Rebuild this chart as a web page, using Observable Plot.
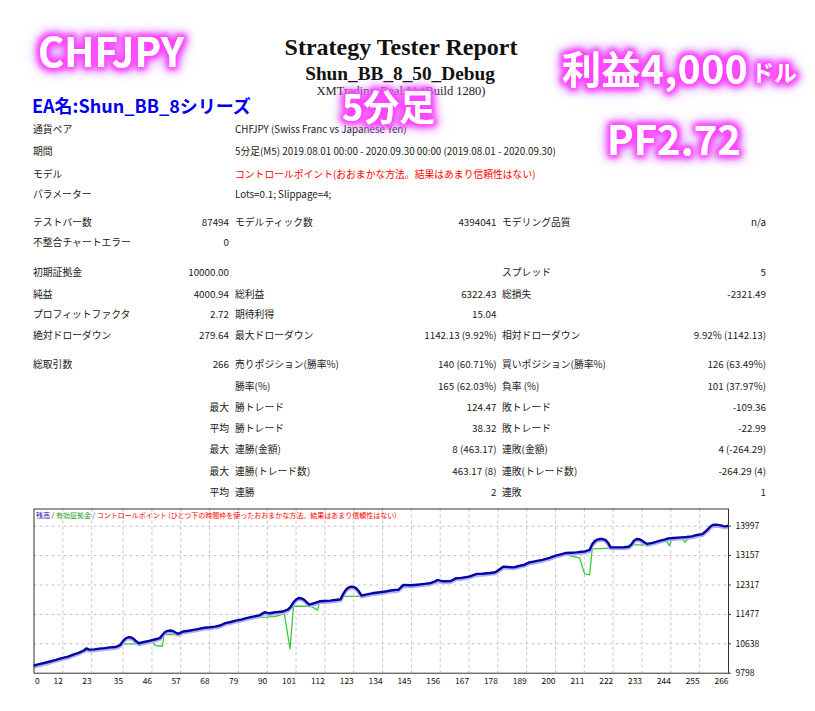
<!DOCTYPE html>
<html><head><meta charset="utf-8">
<script src="https://cdn.jsdelivr.net/npm/d3@7"></script>
<script src="https://cdn.jsdelivr.net/npm/@observablehq/plot@0.6"></script>
<style>
body{margin:0;background:#fff;}
#page{position:relative;width:815px;height:711px;overflow:hidden;background:#fff;}
#chart{position:absolute;left:0;top:500px;}
#over{position:absolute;left:0;top:0;}
</style></head>
<body><div id="page"><div id="chart"></div></div>
<script>
// ---- chart data ----
const xTicks = [0,12,23,35,46,57,68,79,90,101,112,123,134,145,156,167,178,189,200,211,222,233,244,255,266];
const yTicks = [9798,10638,11477,12317,13157,13997];

const balanceTrade = [0,3,6,9,12,14,16,18,20,21,22,24,26,28,30,32,33,34,35,36,37,38,39,40,41,43,45,47,49,50,51,52,53,54,55,56,58,60,63,66,68,70,72,74,76,78,80,82,85,87,89,90,91,93,94,96,98,99,100,101,102,103,104,105,106,108,110,112,114,116,118,119,120,121,122,123,124,125,126,128,130,133,135,137,139,140,142,145,148,150,152,154,155,156,157,160,162,164,167,170,172,175,177,179,180,182,184,186,188,190,192,195,198,200,202,204,206,208,210,211,213,214,215,216,217,218,219,220,221,223,226,228,229,230,231,232,233,234,235,237,240,242,243,245,248,250,252,254,256,257,258,259,260,261,262,263,264,265,266];
const balanceValue = [10000,10055,10110,10170,10237,10270,10330,10380,10446,10505,10470,10480,10500,10515,10535,10545,10570,10610,10720,10795,10825,10820,10780,10710,10654,10690,10720,10760,10800,10890,10975,11008,11016,11005,10960,10922,10990,11010,11050,11095,11110,11130,11160,11230,11260,11300,11330,11370,11420,11450,11540,11520,11510,11540,11545,11560,11620,11700,11824,11900,11945,11940,11900,11830,11758,11800,11852,11860,11870,11890,11910,12063,12180,12245,12271,12262,12220,12130,12015,12050,12080,12109,12130,12160,12177,12180,12320,12310,12330,12350,12366,12420,12462,12440,12423,12430,12508,12520,12557,12634,12640,12660,12680,12780,12842,12830,12822,12860,12891,12965,12990,13033,13100,13156,13190,13233,13240,13250,13265,13270,13318,13480,13570,13615,13632,13630,13605,13530,13393,13393,13395,13410,13480,13590,13632,13625,13585,13530,13490,13520,13584,13620,13650,13660,13678,13690,13707,13747,13770,13830,13900,13980,14030,14040,14035,14020,14000,13992,14012];

const equitySegment = ["A","A","A","B","B","B","B","B","B","C","C","C","C","C","C","C","C","D","D","D","D","D","D","D","D","D","D","D","D","D","E","E","E","E","E","F","F","F","F","F","F","F","F","F","G","G","G","G","H","H","H","H","H","H","I","I","I"];
const equityTrade = [20,21,22,31,32.5,33.5,34,41,41.5,45,46,47.3,50,50.6,56,57,58,78,80,85,90,93,95,96.5,98.7,100,106,107,109.2,110,116,118,118.8,126.4,127,202,204,206,209.2,211.1,213,214,221.5,222,227,228.6,235,236,242,243.4,244.5,248,249.5,251,257.5,258.5,266];
const equityValue = [10446,10450,10465,10540,10505,10520,10637,10637,10654,10720,10700,10586,10568,10902,10905,10900,10990,11300,11330,11385,11400,11420,11460,11500,10494,11710,11710,11700,11600,11852,11880,11890,11995,11995,12030,13190,13200,13140,13090,12634,12605,13347,13370,13393,13395,13461,13461,13500,13630,13441,13650,13655,13535,13700,13850,13964,13964];

const legendParts = [["残高","#1010b0"],[" / ","#444"],["有効証拠金","#20a020"],[" / ","#444"],["コントロールポイント (ひとつ下の時間枠を使ったおおまかな方法。結果はあまり信頼性はない)","#ff0000"]];

// ---- report table text ----
const rowLabels = ["通貨ペア","期間","モデル","パラメーター","テストバー数","不整合チャートエラー","初期証拠金","純益","プロフィットファクタ","絶対ドローダウン","総取引数","","","","","",""];
const rowValues = ["","","","","87494","0","10000.00","4000.94","2.72","279.64","266","","最大","平均","最大","最大","平均"];
const midLabels = ["CHFJPY (Swiss Franc vs Japanese Yen)","5分足(M5) 2019.08.01 00:00 - 2020.09.30 00:00 (2019.08.01 - 2020.09.30)","コントロールポイント(おおまかな方法。結果はあまり信頼性はない)","Lots=0.1; Slippage=4;","モデルティック数","","","総利益","期待利得","最大ドローダウン","売りポジション(勝率%)","勝率(%)","勝トレード","勝トレード","連勝(金額)","連勝(トレード数)","連勝"];
const midValues = ["","","","","4394041","","","6322.43","15.04","1142.13 (9.92%)","140 (60.71%)","165 (62.03%)","124.47","38.32","8 (463.17)","463.17 (8)","2"];
const rightLabels = ["","","","","モデリング品質","","スプレッド","総損失","","相対ドローダウン","買いポジション(勝率%)","負率 (%)","敗トレード","敗トレード","連敗(金額)","連敗(トレード数)","連敗"];
const rightValues = ["","","","","n/a","","5","-2321.49","","9.92% (1142.13)","126 (63.49%)","101 (37.97%)","-109.36","-22.99","4 (-264.29)","-264.29 (4)","1"];

const titleText = "Strategy Tester Report";
const subtitleText = "Shun_BB_8_50_Debug";
const serverText = "XMTrading-Real 11 (Build 1280)";
const eaText = "EA名:Shun_BB_8シリーズ";

// ---- chart ----
const balance = balanceTrade.map((t, i) => ({t, v: balanceValue[i]}));
const equity = equityTrade.map((t, i) => ({t, v: equityValue[i], s: equitySegment[i]}));
const tickFont = "'Noto Sans CJK JP', 'Liberation Sans', sans-serif";

const chart = Plot.plot({
  width: 815, height: 211,
  marginLeft: 33.5, marginRight: 87, marginTop: 8.5, marginBottom: 38.3,
  x: {domain: [1, 266], axis: null},
  y: {domain: [9798, 14488], axis: null},
  style: {background: "transparent", fontFamily: tickFont, overflow: "visible"},
  marks: [
    Plot.ruleX(xTicks.filter(d => d > 0 && d < 266), {x: d => d, stroke: "#c4c4c4", strokeDasharray: "3,3"}),
    Plot.ruleY(yTicks.filter(d => d > 9798), {y: d => d, stroke: "#c4c4c4", strokeDasharray: "3,3"}),
    Plot.line(equity, {x: "t", y: "v", z: "s", stroke: "#3cc83c", strokeWidth: 1.3, clip: true}),
    Plot.line(balance, {x: "t", y: "v", stroke: "#b0b0ee", strokeWidth: 3.6, dy: 1.2, clip: true}),
    Plot.line(balance, {x: "t", y: "v", stroke: "#0606a8", strokeWidth: 2.4, clip: true}),
    Plot.frame({stroke: "#333"}),
    Plot.ruleY(yTicks, {y: d => d, x1: 266, x2: 267.1, stroke: "#333"}),
    Plot.text(yTicks, {x: 266, y: d => d, text: d => String(d), textAnchor: "start", dx: 7, fontSize: 8.6, fill: "#111"}),
    Plot.text(xTicks.filter(d => d > 0), {x: d => d, y: 9798, text: d => String(d), textAnchor: "end", dy: 8, fontSize: 8.4, fill: "#111"}),
    Plot.text(xTicks.filter(d => d === 0), {x: 1, y: 9798, text: d => String(d), textAnchor: "start", dx: 1, dy: 8, fontSize: 8.4, fill: "#111"})
  ]
});
document.getElementById("chart").appendChild(chart);

// ---- overlay svg (report text, legend, captions) ----
const svg = d3.select("#page").append("svg").attr("id", "over")
  .attr("width", 815).attr("height", 711);
const defs = svg.append("defs");
const f = defs.append("filter").attr("id", "glow").attr("x", "-30%").attr("y", "-60%").attr("width", "160%").attr("height", "220%");
f.append("feMorphology").attr("in", "SourceAlpha").attr("operator", "dilate").attr("radius", 2).attr("result", "d");
f.append("feGaussianBlur").attr("in", "d").attr("stdDeviation", 3).attr("result", "b1");
f.append("feFlood").attr("flood-color", "#ff44ff").attr("result", "c1");
f.append("feComposite").attr("in", "c1").attr("in2", "b1").attr("operator", "in").attr("result", "g1");
f.append("feGaussianBlur").attr("in", "d").attr("stdDeviation", 7).attr("result", "b2");
f.append("feFlood").attr("flood-color", "#c070ff").attr("result", "c2");
f.append("feComposite").attr("in", "c2").attr("in2", "b2").attr("operator", "in").attr("result", "g2");
const m = f.append("feMerge");
m.append("feMergeNode").attr("in", "g2");
m.append("feMergeNode").attr("in", "g1");
m.append("feMergeNode").attr("in", "g1");
m.append("feMergeNode").attr("in", "SourceGraphic");

const jp = "'Noto Sans CJK JP', sans-serif";
const serif = "'Liberation Serif', 'Times New Roman', serif";

// titles
svg.append("text").attr("x", 401).attr("y", 55).attr("text-anchor", "middle")
  .attr("font-family", serif).attr("font-weight", "bold").attr("font-size", 24).attr("fill", "#111").text(titleText);
svg.append("text").attr("x", 400).attr("y", 80).attr("text-anchor", "middle")
  .attr("font-family", serif).attr("font-weight", "bold").attr("font-size", 19.3).attr("fill", "#111").text(subtitleText);
svg.append("text").attr("x", 401).attr("y", 95).attr("text-anchor", "middle")
  .attr("font-family", serif).attr("font-size", 12.5).attr("fill", "#222").text(serverText);

// table
const rowY = [130,151.7,174.3,195,222.3,242.7,272.3,294.3,315,335.7,365,386.7,407.7,428.3,450,471.7,492.3];
const tg = svg.append("g").attr("font-family", jp).attr("font-size", 9.8).attr("fill", "#1a1a1a");
rowY.forEach((cy, i) => {
  const y = cy + 3.4;
  tg.append("text").attr("x", 33).attr("y", y).text(rowLabels[i]);
  tg.append("text").attr("x", 229).attr("y", y).attr("text-anchor", "end").text(rowValues[i]);
  tg.append("text").attr("x", 235).attr("y", y).attr("fill", i === 2 ? "#ff0000" : null).text(midLabels[i]);
  tg.append("text").attr("x", 496.5).attr("y", y).attr("text-anchor", "end").text(midValues[i]);
  tg.append("text").attr("x", 502).attr("y", y).text(rightLabels[i]);
  tg.append("text").attr("x", 766).attr("y", y).attr("text-anchor", "end").text(rightValues[i]);
});

// chart legend
const lg = svg.append("text").attr("x", 36).attr("y", 517.5).attr("font-family", jp).attr("font-size", 7);
legendParts.forEach(([t, c]) => lg.append("tspan").attr("fill", c).text(t));

// EA name
svg.append("text").attr("x", 32).attr("y", 113).attr("font-family", jp).attr("font-weight", "bold")
  .attr("font-size", 18).attr("fill", "#0000ee").text(eaText);

// glowing captions
const cap = (x, y, size, t, ls) => svg.append("text").attr("x", x).attr("y", y).attr("font-family", jp)
  .attr("font-weight", "bold").attr("font-size", size).attr("letter-spacing", ls || 0)
  .attr("fill", "#fff").attr("filter", "url(#glow)").text(t);
cap(38, 67, 40, "CHFJPY");
cap(562, 84, 39, "利益4,000", 0.5);
cap(751, 81, 23, "ドル");
cap(342, 121, 36, "5分足");
cap(607, 155, 40, "PF2.72");
</script>
</body></html>
